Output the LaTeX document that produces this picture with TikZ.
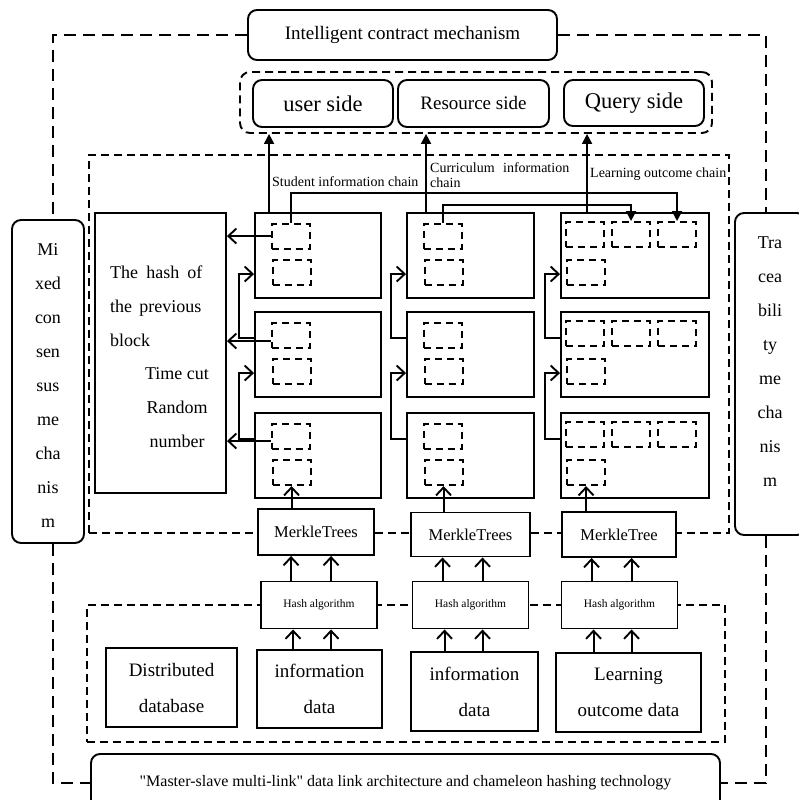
\documentclass[tikz,border=0pt]{standalone}
\usepackage{fontspec}
\setmainfont{Liberation Serif}
\newfontfamily\plainserif{Liberation Serif}[Ligatures=TeXOff]
\usetikzlibrary{arrows.meta,calc}
\tikzset{
  >={Straight Barb[length=8pt,width=15pt]},
  solidbox/.style={draw,line width=1.9pt,fill=white,inner sep=0pt},
  roundbox/.style={solidbox,rounded corners=9pt},
  subbox/.style={draw,line width=2pt,dash pattern=on 7pt off 5pt,minimum width=38pt,minimum height=25pt,inner sep=0pt},
  outerdash/.style={line width=1.9pt,dash pattern=on 12pt off 7pt},
  framedash/.style={draw,line width=1.9pt,dash pattern=on 8pt off 5pt,inner sep=0pt},
  openarr/.style={->,line width=1.9pt},
  fillarr/.style={-{Triangle[length=10pt,width=10pt]},line width=1.9pt},
  bigfont/.style={font=\fontsize{19}{36}\selectfont},
  sidefont/.style={font=\fontsize{22.5}{26}\selectfont},
  bodyfont/.style={font=\fontsize{18}{34}\selectfont},
  chainlbl/.style={inner sep=0pt,font=\fontsize{14}{15}\selectfont},
}

\begin{document}
\begin{tikzpicture}[x=1pt,y=-1pt]
  \useasboundingbox (0,0) rectangle (798,800);

  % dashed frames
  \node[framedash,minimum width=640pt,minimum height=378pt] (chainarea) at (409,344) {};
  \node[framedash,minimum width=638pt,minimum height=137pt] (dataarea) at (406,673.5) {};
  \node[framedash,rounded corners=10pt,minimum width=472pt,minimum height=61pt] (sides) at (476,102.5) {};

  % top and side mechanisms
  \node[roundbox,bigfont,minimum width=309pt,minimum height=50pt] (contract) at (402.5,35) {Intelligent contract mechanism};
  \node[roundbox,minimum width=72pt,minimum height=323pt] (mixed) at (48,381.5) {};
  \node[bodyfont,align=center] (mixedtxt) at (48,385.5) {Mi\\xed\\con\\sen\\sus\\me\\cha\\nis\\m};
  \node[roundbox,minimum width=71pt,minimum height=322pt] (trace) at (770.5,374) {};
  \node[bodyfont,align=center] (tracetxt) at (770,361.5) {Tra\\cea\\bili\\ty\\me\\cha\\nis\\m};
  \node[roundbox,font=\plainserif\fontsize{16}{18}\selectfont,minimum width=629pt,minimum height=58pt] (bottom) at (405.5,783) {"Master-slave multi-link" data link architecture and chameleon hashing technology};

  \draw[outerdash] (contract.west) -| ([xshift=5pt]mixed.north);
  \draw[outerdash] ([xshift=5pt]mixed.south) |- (bottom.west);
  \draw[outerdash] (contract.east) -| ([xshift=-4.5pt]trace.north);
  \draw[outerdash] ([xshift=-4.5pt]trace.south) |- (bottom.east);

  % user, resource and query sides
  \node[roundbox,sidefont,minimum width=140pt,minimum height=47pt] (user) at (323,103.5) {user side};
  \node[roundbox,bigfont,minimum width=151pt,minimum height=47pt] (resource) at (473.5,103.5) {Resource side};
  \node[roundbox,sidefont,minimum width=140pt,minimum height=46pt] (query) at (634,103) {Query side};

  % previous block box
  \node[solidbox,minimum width=131pt,minimum height=280pt] (prev) at (160.5,353) {};
  \node[bodyfont,align=left,anchor=west,inner sep=0pt] (prevhash) at (110,306) {The\hspace{0.45em}hash\hspace{0.45em}of\\the\hspace{0.4em}previous\\block};
  \node[bodyfont,align=center] (prevtime) at (177,408) {Time cut\\Random\\number};

  % blocks of the three chains
  \foreach \c/\cx/\w in {1/318/126,2/470.5/127,3/635/148}
    \foreach \r/\ry in {1/255.5,2/354.5,3/455.5}
      \node[solidbox,minimum width=\w pt,minimum height=85pt] (blk\c\r) at (\cx,\ry) {};
  \foreach \c in {1,2}
    \foreach \r in {1,2,3} {
      \node[subbox] (ta\c\r) at ($(blk\c\r.north west)+(36.5,24)$) {};
      \node[subbox] (lo\c\r) at ($(blk\c\r.north west)+(37.5,60.5)$) {};
    }
  \foreach \r in {1,2,3} {
    \node[subbox] (ta3\r) at ($(blk3\r.north west)+(25,22.5)$) {};
    \node[subbox] (tb3\r) at ($(blk3\r.north west)+(71,22.5)$) {};
    \node[subbox] (tc3\r) at ($(blk3\r.north west)+(117,22.5)$) {};
    \node[subbox] (lo3\r) at ($(blk3\r.north west)+(26,60.5)$) {};
  }

  % Merkle trees, hash algorithms, data
  \node[solidbox,font=\fontsize{16.5}{18}\selectfont,minimum width=116pt,minimum height=46pt] (m1) at (316,532) {MerkleTrees};
  \node[solidbox,font=\fontsize{16.5}{18}\selectfont,minimum width=119pt,minimum height=44pt] (m2) at (470.5,534.5) {MerkleTrees};
  \node[solidbox,font=\fontsize{16.5}{18}\selectfont,minimum width=114pt,minimum height=45pt] (m3) at (619,534.5) {MerkleTree};
  \foreach \i/\hx in {1/319,2/470.5,3/619.5}
    \node[solidbox,font=\fontsize{11.5}{13}\selectfont,minimum width=116pt,minimum height=47pt] (h\i) at (\hx,605) {Hash algorithm};
  \node[solidbox,bigfont,align=center,minimum width=131pt,minimum height=79pt] (db) at (171.5,687.5) {Distributed\\database};
  \node[solidbox,bigfont,align=center,minimum width=125pt,minimum height=78pt] (d1) at (319.5,689) {information\\data};
  \node[solidbox,bigfont,align=center,minimum width=127pt,minimum height=79pt] (d2) at (474.5,691.5) {information\\data};
  \node[solidbox,bigfont,align=center,minimum width=145pt,minimum height=79pt] (d3) at (628.5,692.5) {Learning\\outcome data};

  % chain links
  \foreach \r/\dy in {1/0,2/-6,3/-5}
    \draw[openarr] ([yshift=\dy pt]ta1\r.west) -- ([yshift=\dy pt]ta1\r.west -| prev.east);
  \foreach \c in {1,2,3}
    \foreach \r/\n in {1/2,2/3}
      \draw[openarr] ([yshift=-27pt]blk\c\n.north west) -- ++(-15,0) |- ([yshift=-62pt]blk\c\r.north west);

  % links to the sides
  \draw[fillarr] ([xshift=15pt]blk11.north west) -- ([xshift=15pt]blk11.north west |- sides.south);
  \draw[fillarr] ([xshift=20pt]blk21.north west) -- ([xshift=20pt]blk21.north west |- sides.south);
  \draw[fillarr] ([xshift=27pt]blk31.north west) -- ([xshift=27pt]blk31.north west |- sides.south);
  \draw[fillarr] (ta11.north) -- ++(0,-30) -| (tc31.north);
  \draw[fillarr] (ta21.north) -- ++(0,-18) -| (tb31.north);
  \node[chainlbl,anchor=west] (stulbl) at (272,182) {Student information chain};
  \node[chainlbl,anchor=north west,align=left] (curlbl) at (430,162) {Curriculum\hspace{0.6em}information\\chain};
  \node[chainlbl,anchor=west] (lrnlbl) at (590,174) {Learning outcome chain};

  % Merkle trees into blocks, hashes into Merkle trees, data into hashes
  \foreach \i in {1,2,3} {
    \draw[openarr] (lo\i3.south |- m\i.north) -- (lo\i3.south);
    \foreach \dx in {31,71}
      \draw[openarr] ([xshift=\dx pt]h\i.north west) -- ([xshift=\dx pt]h\i.north west |- m\i.south);
    \foreach \dx in {33,71}
      \draw[openarr] ([xshift=\dx pt]h\i.south west |- d\i.north) -- ([xshift=\dx pt]h\i.south west);
  }
\end{tikzpicture}
\end{document}
